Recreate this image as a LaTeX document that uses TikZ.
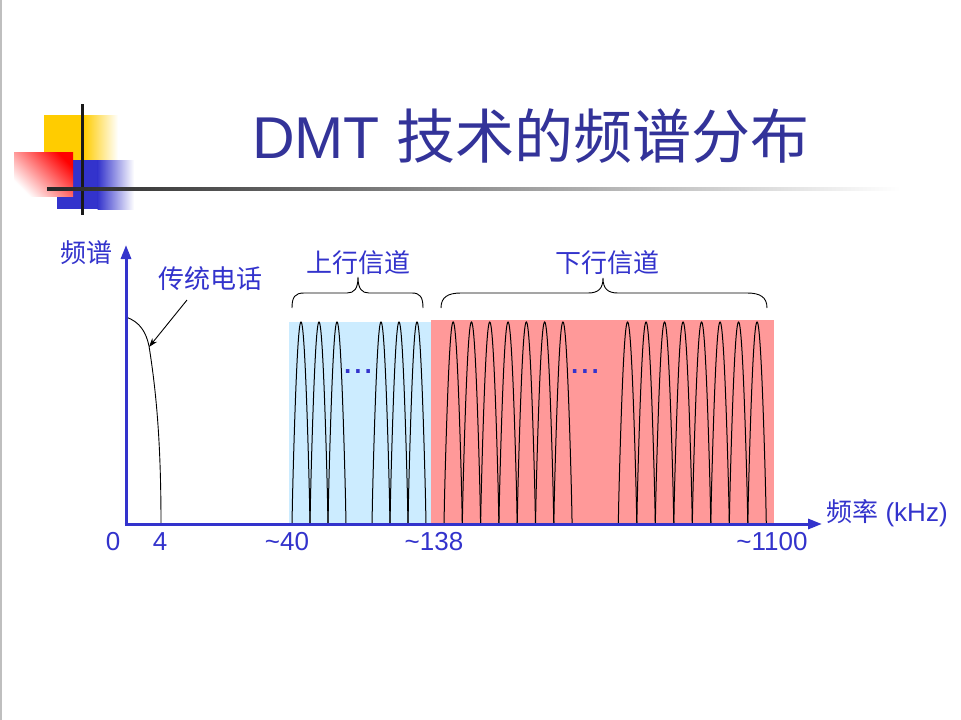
\documentclass[tikz,border=0pt]{standalone}
\usepackage{fontspec}
\setmainfont{Liberation Sans}
\newfontfamily\cjk{Noto Sans CJK SC}
\usetikzlibrary{arrows.meta}
\definecolor{axisblue}{RGB}{51,51,204}
\definecolor{titleblue}{RGB}{51,51,153}
\definecolor{upblue}{RGB}{204,236,255}
\definecolor{downred}{RGB}{255,153,153}
\definecolor{logoyellow}{RGB}{255,204,0}
\definecolor{logoblue}{RGB}{51,51,204}
\begin{document}
\begin{tikzpicture}[x=1pt,y=-1pt,
  lbl/.style={text=axisblue, inner sep=0pt, font=\fontsize{26}{28}\selectfont},
  dotlbl/.style={text=axisblue, inner sep=0pt, font=\fontsize{37}{38}\selectfont},
  axisline/.style={draw=axisblue, line width=3pt, -{Triangle[length=14pt,width=10pt]}},
  lobe/.style={draw=black, line width=1pt},
  bracestyle/.style={draw=black, line width=0.9pt},
  thinline/.style={draw=black, line width=0.9pt}]

\useasboundingbox (0,0) rectangle (961,720);
\fill[white] (0,0) rectangle (961,720);
\draw[gray!50, line width=1.5pt] (0.75,0) -- (0.75,720);

% logo
\fill[logoyellow] (44,115) rectangle (84,160);
\shade[left color=logoyellow, right color=white] (83.5,115) rectangle (118,160);
\fill[logoblue] (57,160) rectangle (98,209);
\shade[left color=logoblue, right color=white] (97.5,160) rectangle (134,209);
\shade[top color=red, bottom color=white, shading angle=-45] (14,152) rectangle (73,196);
\fill[black!90] (81,104) rectangle (84,215);
\shade[left color=black!85, middle color=black!30, right color=white] (47,187) rectangle (900,190);

% title
\node[anchor=base west, inner sep=0pt, text=titleblue, font=\fontsize{59}{61}\selectfont] (title) at (252,158) {DMT {\cjk 技术的频谱分布}};

% bands
\fill[upblue] (289,322) rectangle (431,524);
\fill[downred] (431,320) rectangle (774,524);

% lobes
\foreach \b in {292,310,328,372,390,408}
  \draw[lobe] plot[domain=0:180, samples=41] ({\b+18*\x/180},{524-202*sin(\x)^0.85});
\foreach \i [evaluate=\i as \b using 444+18.3*\i] in {0,...,6}
  \draw[lobe] plot[domain=0:180, samples=41] ({\b+18.3*\x/180},{524-202*sin(\x)^0.85});
\foreach \i [evaluate=\i as \b using 618.3+18.5*\i] in {0,...,7}
  \draw[lobe] plot[domain=0:180, samples=41] ({\b+18.5*\x/180},{524-202*sin(\x)^0.85});

\node[dotlbl] (dotsup) at (358,372) {...};
\node[dotlbl] (dotsdown) at (585,372) {...};

% phone spectrum
\draw[thinline] (126,317) .. controls (140,322) and (146,332) .. (149,346) .. controls (156,390) and (161,440) .. (161,524);

% axes
\coordinate (yfrom) at (126,525.5);
\coordinate (yto) at (126,245);
\coordinate (xfrom) at (124.5,524);
\coordinate (xto) at (822,524);
\draw[axisline] (yfrom) -- (yto);
\draw[axisline] (xfrom) -- (xto);

% braces
\draw[bracestyle] (292,308) .. controls (292,297) and (295,293) .. (304,293) -- (347,293) .. controls (354,293) and (358,289) .. (358,277) .. controls (358,289) and (362,293) .. (369,293) -- (412,293) .. controls (420,293) and (423,297) .. (423,308);
\draw[bracestyle] (441,308) .. controls (441,297) and (448,293) .. (461,293) -- (588,293) .. controls (598,293) and (603,289) .. (603,278) .. controls (603,289) and (608,293) .. (618,293) -- (747,293) .. controls (760,293) and (767,297) .. (767,308);

% labels
\node[lbl] (ylab) at (86,253) {\cjk 频谱};
\node[lbl] (phone) at (210,279) {\cjk 传统电话};
\node[lbl] (up) at (358,263) {\cjk 上行信道};
\node[lbl] (down) at (607,263) {\cjk 下行信道};
\node[lbl] (xlab) at (887,513) {{\cjk 频率} (kHz)};
\node[lbl] (t0) at (113,542) {0};
\node[lbl] (t4) at (160,542) {4};
\node[lbl] (t40) at (287,542) {\textasciitilde 40};
\node[lbl] (t138) at (434,542) {\textasciitilde 138};
\node[lbl] (t1100) at (772,542) {\textasciitilde 1100};

% arrow to phone curve
\coordinate (arrS) at (187,300);
\coordinate (arrE) at (149,347);
\draw[thinline, -{Stealth[length=9pt,width=6pt]}] (arrS) -- (arrE);
\end{tikzpicture}
\end{document}
